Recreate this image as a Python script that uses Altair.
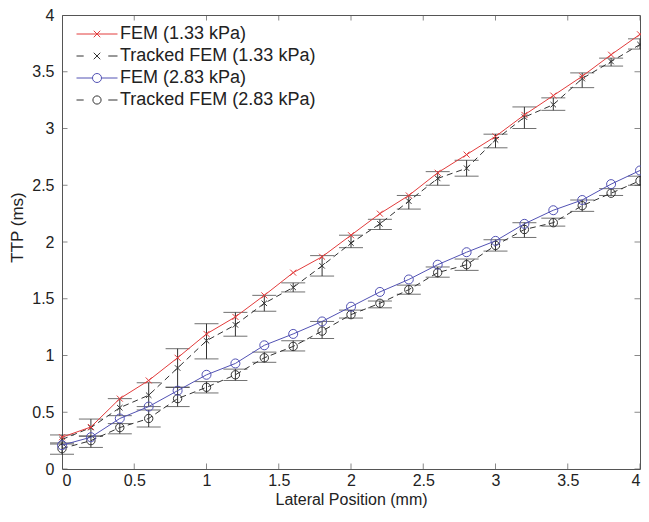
import altair as alt
import pandas as pd

# ---------------- data ----------------
x_mm = [0.0, 0.2, 0.4, 0.6, 0.8, 1.0, 1.2, 1.4, 1.6, 1.8, 2.0,
        2.2, 2.4, 2.6, 2.8, 3.0, 3.2, 3.4, 3.6, 3.8, 4.0]

fem_133 = [0.28, 0.37, 0.62, 0.78, 0.98, 1.19, 1.34, 1.53, 1.73, 1.87, 2.06,
           2.25, 2.41, 2.61, 2.77, 2.93, 3.12, 3.29, 3.46, 3.65, 3.83]

trk_133 = [0.26, 0.365, 0.54, 0.65, 0.89, 1.13, 1.27, 1.46, 1.60, 1.79, 1.99,
           2.16, 2.36, 2.56, 2.65, 2.90, 3.10, 3.21, 3.44, 3.59, 3.74]
trk_133_lo = [0.22, 0.29, 0.47, 0.55, 0.72, 0.97, 1.17, 1.39, 1.56, 1.70, 1.95,
              2.11, 2.29, 2.50, 2.58, 2.83, 3.00, 3.16, 3.36, 3.55, 3.70]
trk_133_hi = [0.30, 0.44, 0.62, 0.76, 1.06, 1.28, 1.38, 1.53, 1.64, 1.88, 2.06,
              2.20, 2.41, 2.62, 2.72, 2.95, 3.19, 3.27, 3.49, 3.62, 3.79]

fem_283 = [0.21, 0.28, 0.445, 0.55, 0.69, 0.83, 0.93, 1.09, 1.19, 1.30, 1.43,
           1.56, 1.67, 1.80, 1.91, 2.01, 2.16, 2.28, 2.37, 2.51, 2.63]

trk_283 = [0.18, 0.25, 0.365, 0.445, 0.62, 0.72, 0.83, 0.98, 1.08, 1.215, 1.36,
           1.46, 1.58, 1.73, 1.80, 1.97, 2.11, 2.17, 2.32, 2.43, 2.54]
trk_283_lo = [0.13, 0.19, 0.31, 0.37, 0.55, 0.67, 0.78, 0.94, 1.04, 1.15, 1.33,
              1.42, 1.54, 1.69, 1.75, 1.92, 2.04, 2.14, 2.27, 2.41, 2.50]
trk_283_hi = [0.23, 0.29, 0.40, 0.52, 0.72, 0.77, 0.88, 1.03, 1.13, 1.30, 1.40,
              1.48, 1.62, 1.78, 1.85, 2.02, 2.17, 2.21, 2.37, 2.47, 2.58]

series_names = ["FEM (1.33 kPa)", "Tracked FEM (1.33 kPa)",
                "FEM (2.83 kPa)", "Tracked FEM (2.83 kPa)"]

x_ticks = [0, 0.5, 1, 1.5, 2, 2.5, 3, 3.5, 4]
y_ticks = [0, 0.5, 1, 1.5, 2, 2.5, 3, 3.5, 4]

# ---------------- style ----------------
FONT = "Liberation Sans"
RED = "#e23c3c"
BLUE = "#5252b4"
BLK = "#333333"
AX = "#555555"
TXT = "#222222"

X_PATH = "M-1,-1L1,1M-1,1L1,-1"
DASH = [6, 4]

LEG_PATHS = [
    "M-1,0H1M-0.16,-0.16L0.16,0.16M-0.16,0.16L0.16,-0.16",
    "M-1,0H-0.65M0.55,0H1M-0.16,-0.16L0.16,0.16M-0.16,0.16L0.16,-0.16",
    "M-1,0H-0.22M0.22,0H1M0.22,0A0.22,0.22,0,1,1,-0.22,0A0.22,0.22,0,1,1,0.22,0",
    "M-1,0H-0.65M0.55,0H1M0.2,0A0.2,0.2,0,1,1,-0.2,0A0.2,0.2,0,1,1,0.2,0",
]
LEG_COLORS = [RED, BLK, BLUE, BLK]

# ---------------- tables ----------------
def series_df(y, lo=None, hi=None):
    d = {"x": x_mm, "y": y}
    if lo is not None:
        d["lo"] = lo
        d["hi"] = hi
    return pd.DataFrame(d)

df_f133 = series_df(fem_133)
df_t133 = series_df(trk_133, trk_133_lo, trk_133_hi)
df_f283 = series_df(fem_283)
df_t283 = series_df(trk_283, trk_283_lo, trk_283_hi)

xs = alt.Scale(domain=[0, 4], nice=False, zero=False)
ys = alt.Scale(domain=[0, 4], nice=False, zero=False)

X = alt.X("x:Q", scale=xs,
          axis=alt.Axis(values=x_ticks, format="~g", title="Lateral Position (mm)",
                        titleY=35, titleBaseline="alphabetic", titleFontSize=16))
Y = alt.Y("y:Q", scale=ys,
          axis=alt.Axis(values=y_ticks, format="~g", title="TTP (ms)",
                        titleX=-45, titleY=212, titleBaseline="middle"))


def line(df, color, dash=None):
    kw = dict(color=color, strokeWidth=1)
    if dash:
        kw["strokeDash"] = dash
    return alt.Chart(df).mark_line(**kw).encode(x=X, y=Y)


def pts(df, shape, size, color):
    return alt.Chart(df).mark_point(shape=shape, size=size, color=color,
                                    filled=False, strokeWidth=1, opacity=1).encode(x=X, y=Y)


def errbars(df, color):
    base = alt.Chart(df)
    rule = base.mark_rule(color=color, strokeWidth=1).encode(
        x=X, y=alt.Y("lo:Q", scale=ys), y2="hi:Q")
    cap_lo = base.mark_tick(orient="horizontal", size=24, thickness=1, color=color).encode(
        x=X, y=alt.Y("lo:Q", scale=ys))
    cap_hi = base.mark_tick(orient="horizontal", size=24, thickness=1, color=color).encode(
        x=X, y=alt.Y("hi:Q", scale=ys))
    return rule + cap_lo + cap_hi


# inward ticks on all four sides
xt_df = pd.DataFrame({"x": x_ticks})
yt_df = pd.DataFrame({"y": y_ticks})
tick_b = alt.Chart(xt_df).mark_tick(orient="vertical", size=11, thickness=1, color=AX, clip=True).encode(
    x=X, y=alt.datum(0))
tick_t = alt.Chart(xt_df).mark_tick(orient="vertical", size=11, thickness=1, color=AX, clip=True).encode(
    x=X, y=alt.datum(4))
tick_l = alt.Chart(yt_df).mark_tick(orient="horizontal", size=11, thickness=1, color=AX, clip=True).encode(
    y=Y, x=alt.datum(0))
tick_r = alt.Chart(yt_df).mark_tick(orient="horizontal", size=11, thickness=1, color=AX, clip=True).encode(
    y=Y, x=alt.datum(4))

# legend (driven by scale domain only)
leg_df = pd.DataFrame({"series": series_names})
legend_def = alt.Legend(title=None, orient="none", legendX=14, legendY=8,
                        clipHeight=22, rowPadding=0, padding=0, labelOffset=2,
                        symbolOffset=0, symbolSize=1681, symbolStrokeWidth=1,
                        symbolFillColor="transparent",
                        labelFontSize=18, labelFont=FONT, labelColor=TXT, labelLimit=400)
legend_layer = alt.Chart(leg_df).transform_filter("false").mark_point(
    filled=False, size=1681, strokeWidth=1, opacity=1).encode(
    shape=alt.Shape("series:N", scale=alt.Scale(domain=series_names, range=LEG_PATHS),
                    legend=legend_def),
    color=alt.Color("series:N", scale=alt.Scale(domain=series_names, range=LEG_COLORS),
                    legend=legend_def),
)

chart = alt.layer(
    tick_b, tick_t, tick_l, tick_r,
    errbars(df_t133, BLK),
    line(df_t133, BLK, DASH),
    pts(df_t133, X_PATH, 30, BLK),
    line(df_f133, RED),
    pts(df_f133, X_PATH, 36, RED),
    errbars(df_t283, BLK),
    line(df_t283, BLK, DASH),
    pts(df_t283, "circle", 70, BLK),
    line(df_f283, BLUE),
    pts(df_f283, "circle", 81, BLUE),
    legend_layer,
).properties(
    width=578, height=454,
    padding={"left": 54, "top": 7, "right": 1, "bottom": 39},
    autosize=alt.AutoSizeParams(type="none"),
).configure_view(
    stroke=AX, strokeWidth=1
).configure_axis(
    grid=False, domain=False, ticks=False,
    labelFont=FONT, labelFontSize=16, labelColor=TXT,
    titleFont=FONT, titleFontSize=17, titleColor=TXT, titleFontWeight="normal",
).configure_axisX(
    labelPadding=3,
).configure_axisY(
    labelPadding=8,
)

chart.save("out.html", embed_options={"renderer": "svg", "actions": False})
